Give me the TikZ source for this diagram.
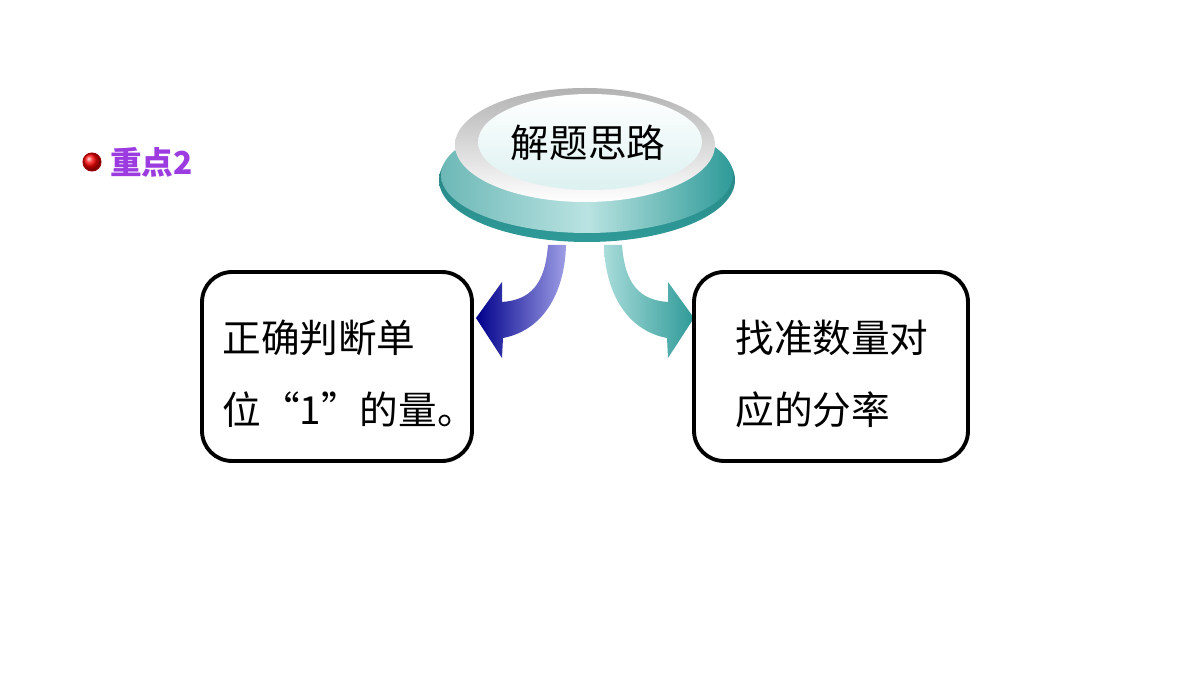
\documentclass[tikz,border=0pt]{standalone}
\usepackage{fontspec}
\setmainfont{Noto Sans CJK SC}
\usetikzlibrary{shadings}
\definecolor{tealD}{HTML}{2E9A98}
\definecolor{tealL}{HTML}{A8DCDA}
\definecolor{purp}{HTML}{9B3BE0}
\begin{document}
\begin{tikzpicture}[x=0.02cm,y=-0.02cm,
  box/.style={draw=black,line width=2.2pt,rounded corners=0.6cm,fill=white},
  txt/.style={font=\fontsize{22}{26}\selectfont,anchor=west,inner sep=0}]
\useasboundingbox (0,0) rectangle (1200,675);
% disk
\shade[top color=tealD!80!black,bottom color=tealD] (587,180) ellipse [x radius=148,y radius=62];
\shade[left color=tealD!70, right color=tealD, middle color=tealL!80] (587,175) ellipse [x radius=146,y radius=58];
\shade[top color=gray!60,bottom color=white] (585,145) ellipse [x radius=130,y radius=57];
\shade[top color=white,bottom color=tealL!40] (590,142) ellipse [x radius=112,y radius=48];
\node[font=\fontsize{22}{26}\selectfont] (title) at (588,143) {解题思路};
% arrows
\shade[left color=blue!55!black,right color=blue!35!white!80!gray]
 (548,245) .. controls (545,285) and (530,300) .. (502,302) -- (502,282) -- (476,318) -- (502,358) -- (503,338)
 .. controls (545,330) and (565,290) .. (566,245) -- cycle;
\shade[left color=tealL,right color=tealD]
 (622,245) .. controls (625,285) and (640,300) .. (668,302) -- (668,282) -- (694,318) -- (668,358) -- (667,338)
 .. controls (625,330) and (605,290) .. (604,245) -- cycle;
% boxes
\node[box,minimum width=5.4cm,minimum height=3.78cm] (L) at (337,366.5) {};
\node[box,minimum width=5.48cm,minimum height=3.78cm] (R) at (831,366.5) {};
\node[txt] (l1) at (222,338) {正确判断单};
\node[txt] (l2) at (222,410) {位“1”的量。};
\node[txt] (r1) at (735,338) {找准数量对};
\node[txt] (r2) at (735,410) {应的分率};
% key point
\shade[ball color=red] (92,162) circle (9);
\draw[red!60!black,line width=0.6pt] (92,162) circle (9);
\node[anchor=west,inner sep=0,font=\fontsize{18}{20}\selectfont\bfseries,text=purp] (kp) at (110,162) {重点2};
\end{tikzpicture}
\end{document}
